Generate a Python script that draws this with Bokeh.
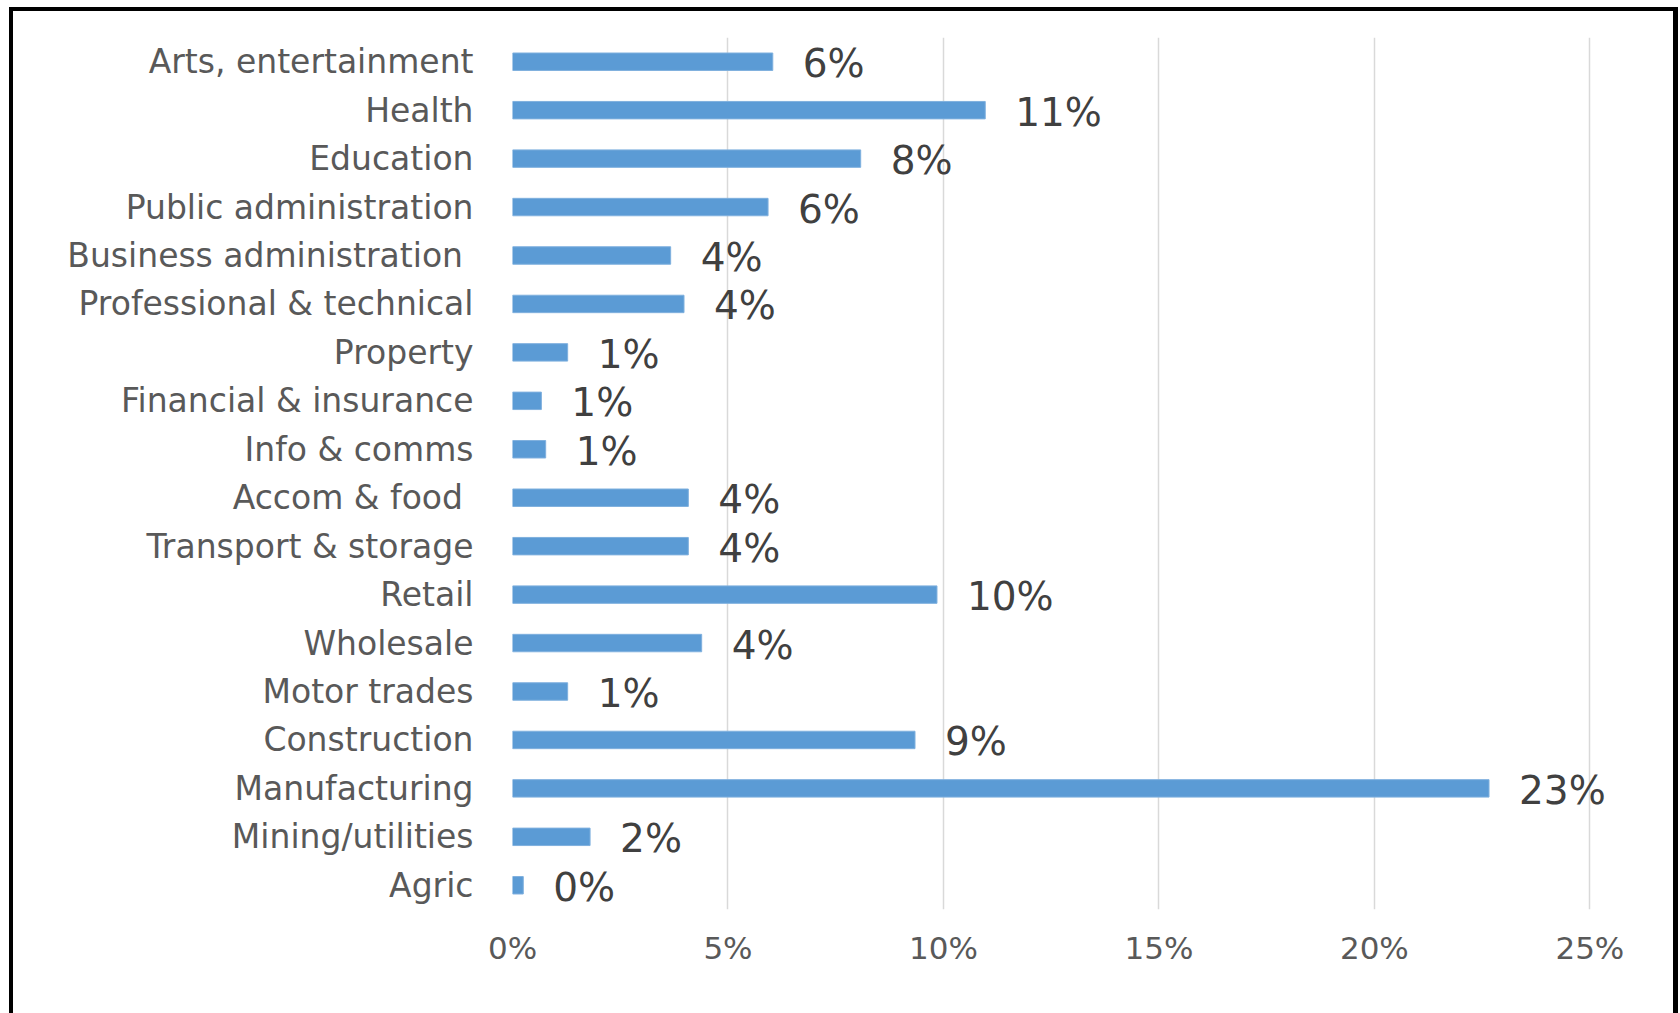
from bokeh.plotting import figure
from bokeh.models import ColumnDataSource, FactorRange, Range1d, NumeralTickFormatter, FixedTicker
from bokeh.core.properties import value
from bokeh.embed import file_html
from bokeh.resources import INLINE

# Categories listed top to bottom as in the chart
categories = [
    "Arts, entertainment", "Health", "Education", "Public administration",
    "Business administration ", "Professional & technical", "Property",
    "Financial & insurance", "Info & comms", "Accom & food ",
    "Transport & storage", "Retail", "Wholesale", "Motor trades",
    "Construction", "Manufacturing", "Mining/utilities", "Agric",
]
shares = [
    0.0604, 0.1097, 0.0808, 0.0593,
    0.0367, 0.0398, 0.0128,
    0.0067, 0.0077, 0.0408,
    0.0408, 0.0985, 0.0439, 0.0128,
    0.0934, 0.2266, 0.0180, 0.0025,
]
x_ticks = [0, 0.05, 0.10, 0.15, 0.20, 0.25]

labels = ["%d%%" % round(v * 100) for v in shares]
src = ColumnDataSource(dict(cat=categories, val=shares, lab=labels))

FONT = "DejaVu Sans"

p = figure(
    width=1680, height=1013,
    y_range=FactorRange(factors=list(reversed(categories))),
    x_range=Range1d(0, 0.265),
    output_backend="svg", toolbar_location=None,
    min_border_left=512, min_border_right=26,
    min_border_top=37, min_border_bottom=104,
)
p.outline_line_color = None
p.background_fill_color = "white"
p.border_fill_color = None

# outer chart border (left, top, right edges)
p.styles = {
    "background": (
        "linear-gradient(#000,#000) 9px 7px / 4px 1100px no-repeat, "
        "linear-gradient(#000,#000) 9px 7px / 1669px 4px no-repeat, "
        "linear-gradient(#000,#000) 1673px 7px / 5px 1100px no-repeat, white"
    )
}

p.hbar(y="cat", right="val", left=0, height=0.36, source=src,
       fill_color="#5B9BD5", line_color="#7FB0DE", line_width=1)

p.text(x="val", y="cat", text="lab", source=src,
       x_offset=30, y_offset=2, text_baseline="middle", text_align="left",
       text_font=value(FONT), text_font_size="39px", text_color="#404040")

# grid
p.ygrid.grid_line_color = None
p.xgrid.grid_line_color = "#D9D9D9"
p.xgrid.grid_line_width = 1.5
p.xaxis.ticker = FixedTicker(ticks=x_ticks)

# axes
for ax in (p.xaxis, p.yaxis):
    ax.axis_line_color = None
    ax.major_tick_line_color = None
    ax.minor_tick_line_color = None
    ax.major_tick_in = 0
    ax.major_tick_out = 0
    ax.major_label_text_font = FONT
    ax.major_label_text_color = "#595959"

p.xaxis.major_label_text_font_size = "31px"
p.yaxis.major_label_text_font_size = "33px"
p.xaxis.formatter = NumeralTickFormatter(format="0%")
p.xaxis.major_label_standoff = 20
p.yaxis.major_label_standoff = 39

open("out.html", "w").write(file_html(p, INLINE))
